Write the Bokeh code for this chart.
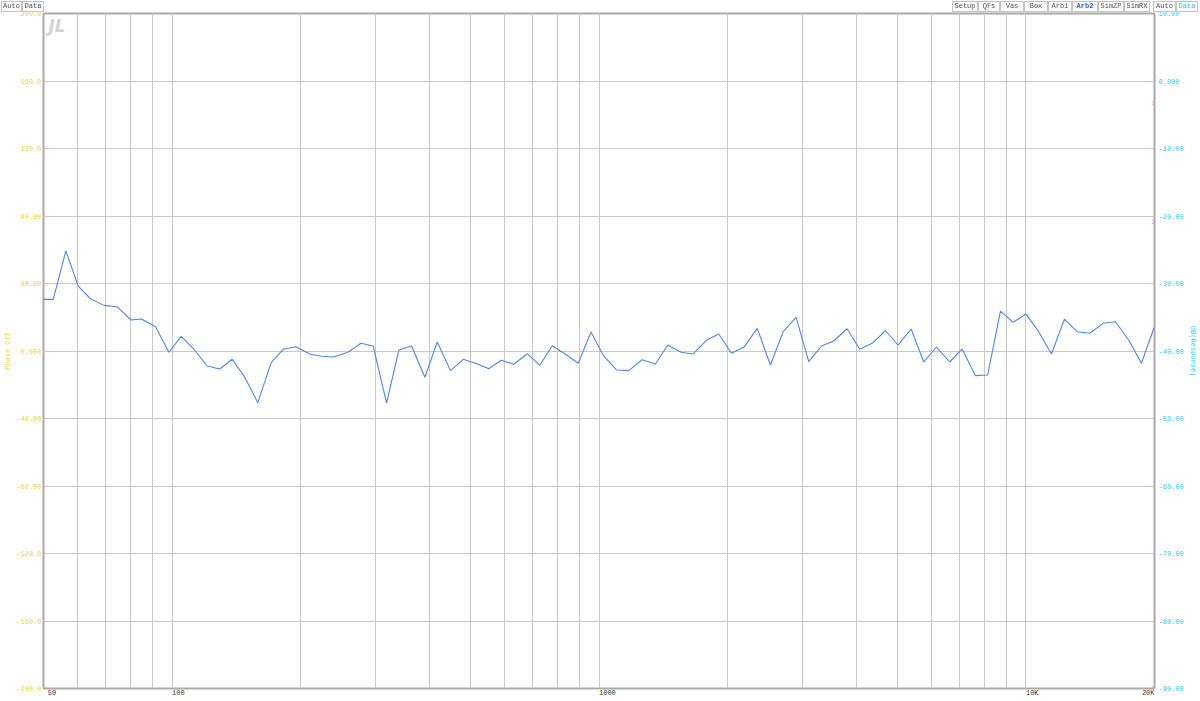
from bokeh.plotting import figure
from bokeh.models import Range1d, LinearAxis, LogAxis, FixedTicker, Label, Div
from bokeh.layouts import column
from bokeh.embed import file_html
from bokeh.resources import INLINE

# ---------------- data ----------------
freq_hz = [48, 52.7, 56.4, 60.3, 64.4, 69.2, 74.4, 80.2, 84.8, 91.5,
           98.3, 105.1, 112.9, 120.9, 129.4, 138.3, 147.8, 158.8, 170.7, 182.1,
           194.9, 211, 224, 239, 258, 277, 296, 318, 340, 364,
           391, 418, 449, 481, 514, 552, 590, 632, 679, 727,
           777, 835, 894, 958, 1023, 1099, 1174, 1262, 1356, 1449,
           1557, 1661, 1785, 1907, 2043, 2191, 2347, 2520, 2700, 2895,
           3099, 3319, 3546, 3812, 4080, 4362, 4687, 5019, 5384, 5762,
           6170, 6630, 7089, 7615, 8135, 8716, 9332, 10000, 10711, 11472,
           12306, 13182, 14106, 15162, 16198, 17400, 18636, 19950]

response_db = [-32.35, -32.35, -25.16, -30.38, -32.26, -33.24, -33.45, -35.41, -35.27, -36.41,
               -40.19, -37.83, -39.85, -42.22, -42.66, -41.23, -43.80, -47.65, -41.73, -39.75,
               -39.36, -40.49, -40.78, -40.89, -40.19, -38.86, -39.26, -47.74, -39.85, -39.26,
               -43.89, -38.67, -42.91, -41.23, -41.82, -42.62, -41.38, -41.97, -40.40, -42.12,
               -39.22, -40.49, -41.82, -37.19, -40.64, -42.81, -42.91, -41.29, -41.92, -39.11,
               -40.19, -40.44, -38.42, -37.49, -40.34, -39.36, -36.64, -42.07, -37.14, -35.01,
               -41.58, -39.26, -38.52, -36.70, -39.75, -38.86, -37.00, -39.11, -36.75, -41.63,
               -39.41, -41.63, -39.70, -43.65, -43.55, -34.08, -35.75, -34.53, -37.14, -40.44,
               -35.27, -37.14, -37.38, -35.90, -35.67, -38.37, -41.82, -36.55]

phase_ticks = [-200, -160, -120, -80, -40, 0, 40, 80, 120, 160, 200]
phase_labels = ["-200.0", "-160.0", "-120.0", "-80.00", "-40.00", "0.000",
                "40.00", "80.00", "120.0", "160.0", "200.0"]
db_ticks = [-90, -80, -70, -60, -50, -40, -30, -20, -10, 0, 10]
db_labels = ["-90.00", "-80.00", "-70.00", "-60.00", "-50.00", "-40.00",
             "-30.00", "-20.00", "-10.00", "0.000", "10.00"]
x_grid = [60, 70, 80, 90, 100, 200, 300, 400, 500, 600, 700, 800, 900,
          1000, 2000, 3000, 4000, 5000, 6000, 7000, 8000, 9000, 10000]
x_tick_vals = [50, 100, 1000, 10000, 20000]
x_tick_text = ["50", "100", "1000", "10K", "20K"]
marker_db = [-3.27, -20.87, -90.0]
marker_colors = ["#E8A07A", "#9A9AD8", "#A8A8A8"]
buttons_left = ["Auto", "Data"]
buttons_right = ["Setup", "QFs", "Vas", "Box", "Arb1", "Arb2", "SimZP", "SimRX"]
buttons_right2 = ["Auto", "Data"]

# ---------------- layout ----------------
W, H = 1200, 699
ML, MR, MT, MB = 43, 46, 13, 10
FW = W - ML - MR
FH = H - MT - MB

MONO = "Liberation Mono"
YELLOW = "#F2D22E"
CYAN = "#2CC6F0"
GRID = "#C8C8C8"
NB = "\u00a0"

p = figure(width=W, height=H, x_axis_type="log", x_axis_location=None,
           x_range=Range1d(50, 20000), y_range=Range1d(-200, 200),
           output_backend="svg", toolbar_location=None,
           min_border_left=ML, min_border_right=MR,
           min_border_top=MT, min_border_bottom=MB)
p.background_fill_color = "white"
p.border_fill_color = "white"
p.outline_line_color = "#A9A9A9"
p.outline_line_width = 2

p.xgrid.ticker = FixedTicker(ticks=x_grid)
p.xgrid.grid_line_color = GRID
p.ygrid.ticker = FixedTicker(ticks=phase_ticks)
p.ygrid.grid_line_color = GRID

# bottom frequency axis (labels start at their tick, last one ends at it)
x_over = {}
for v, t in zip(x_tick_vals, x_tick_text):
    if v == x_tick_vals[-1]:
        x_over[v] = t + NB * len(t)
    elif v == x_tick_vals[0]:
        x_over[v] = NB * (len(t) + 2) + t
    else:
        x_over[v] = NB * len(t) + t
xa = LogAxis(ticker=FixedTicker(ticks=x_tick_vals), major_label_overrides=x_over)
xa.axis_line_color = None
xa.major_tick_line_color = None
xa.minor_tick_line_color = None
xa.major_tick_out = 0
xa.major_tick_in = 0
xa.major_label_standoff = 0
xa.major_label_text_font = MONO
xa.major_label_text_font_size = "7px"
xa.major_label_text_color = "#333333"
p.add_layout(xa, "below")

ya = p.yaxis[0]
ya.ticker = FixedTicker(ticks=phase_ticks)
ya.major_label_overrides = dict(zip(phase_ticks, phase_labels))
ya.axis_line_color = None
ya.major_tick_line_color = None
ya.minor_tick_line_color = None
ya.major_tick_out = 0
ya.major_tick_in = 0
ya.major_label_standoff = 2
ya.major_label_text_font = MONO
ya.major_label_text_font_size = "7px"
ya.major_label_text_color = YELLOW
ya.axis_label = "Phase Off"
ya.axis_label_text_font = MONO
ya.axis_label_text_font_size = "7px"
ya.axis_label_text_font_style = "normal"
ya.axis_label_text_color = YELLOW
ya.axis_label_standoff = 1

p.extra_y_ranges = {"db": Range1d(-90, 10)}
ra = LinearAxis(y_range_name="db", ticker=FixedTicker(ticks=db_ticks))
ra.major_label_overrides = dict(zip(db_ticks, db_labels))
ra.axis_line_color = None
ra.major_tick_line_color = None
ra.minor_tick_line_color = None
ra.major_tick_out = 0
ra.major_tick_in = 0
ra.major_label_standoff = 4
ra.major_label_text_font = MONO
ra.major_label_text_font_size = "7px"
ra.major_label_text_color = CYAN
ra.axis_label = "dB(Response)"
ra.axis_label_text_font = MONO
ra.axis_label_text_font_size = "7px"
ra.axis_label_text_font_style = "normal"
ra.axis_label_text_color = CYAN
ra.axis_label_standoff = 2
p.add_layout(ra, "right")

p.line(freq_hz, response_db, y_range_name="db", line_color="#4F88DC", line_width=1.1)

for d, c in zip(marker_db, marker_colors):
    p.scatter([20000], [d], y_range_name="db", marker="x", size=6,
              line_color=c, line_width=1)

# logo
p.add_layout(Label(x=5, y=FH - 3, x_units="screen", y_units="screen", text="JL",
                   text_font="DejaVu Sans", text_font_style="bold italic",
                   text_font_size="17px", text_color="#D4D4D4",
                   text_align="left", text_baseline="top"))

# ---------------- toolbar-like buttons (HTML overlay on the top strip) ----------------
left_pos = [(1, 21), (22, 22)]
right_pos = [(952, 26), (978, 22), (1000, 24), (1024, 24), (1048, 24), (1072, 26),
             (1098, 26), (1124, 26)]
right2_pos = [(1153, 23), (1176, 22)]


def btn(text, pos, color="#555555", weight="normal"):
    l, w = pos
    return ('<span style="position:absolute;left:%dpx;top:1px;width:%dpx;height:11px;'
            'box-sizing:border-box;border:1px solid #C4C4C4;background:#FAFAFA;'
            'font-family:\'Liberation Mono\',monospace;font-size:7px;line-height:9px;'
            'text-align:center;color:%s;font-weight:%s;">%s</span>' % (l, w, color, weight, text))


spans = []
for t, pos in zip(buttons_left, left_pos):
    spans.append(btn(t, pos))
for t, pos in zip(buttons_right, right_pos):
    if t == "Arb2":
        spans.append(btn(t, pos, color="#2F6BD0", weight="bold"))
    else:
        spans.append(btn(t, pos))
for t, pos in zip(buttons_right2, right2_pos):
    spans.append(btn(t, pos, color=CYAN if t == "Data" else "#555555"))

html = ('<div style="position:fixed;left:0;top:0;width:1200px;height:13px;z-index:10;">'
        + "".join(spans) + "</div>")
bar = Div(text=html, width=W, height=1)

layout = column(p, bar, spacing=0)
open("out.html", "w").write(file_html(layout, INLINE))
